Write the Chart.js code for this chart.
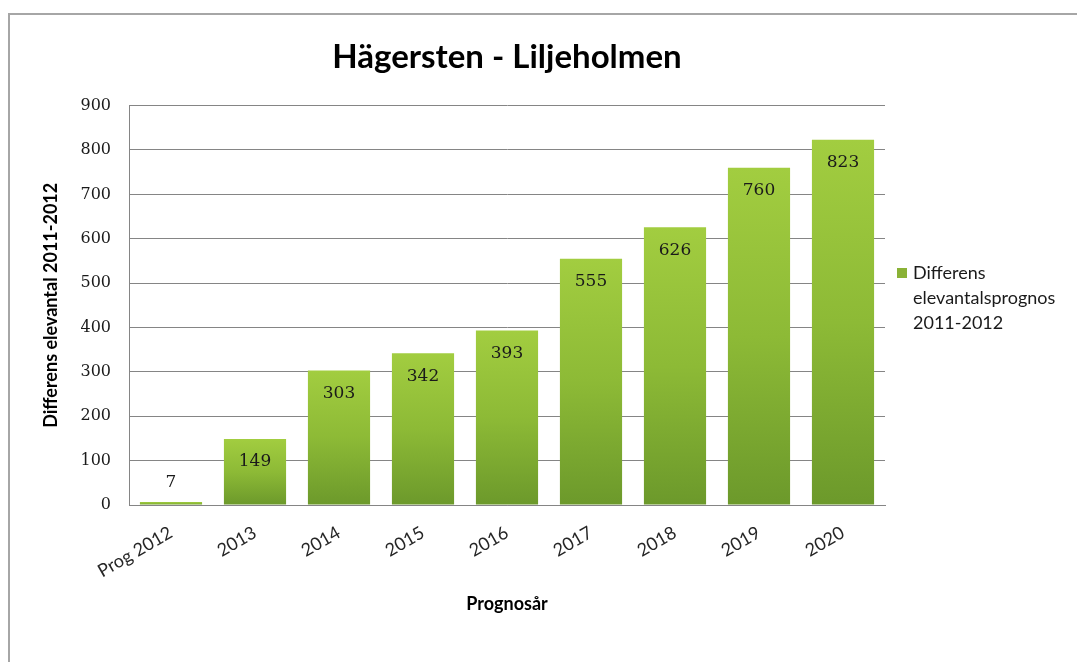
<!DOCTYPE html>
<html>
<head>
<meta charset="utf-8">
<script src="https://cdn.jsdelivr.net/npm/chart.js@4"></script>
<style>
  html, body { margin: 0; padding: 0; background: #fff; }
  #wrap { position: relative; width: 1077px; height: 662px; }
  #frame { position: absolute; left: 8px; top: 13px; right: -4px; bottom: -4px;
           border-top: 2px solid #a6a6a6; border-left: 2px solid #a6a6a6; }
  canvas { position: absolute; left: 0; top: 0; }
</style>
</head>
<body>
<div id="wrap">
  <div id="frame"></div>
  <canvas id="myChart" width="1077" height="662"></canvas>
</div>
<script>
const categories = ['Prog 2012', '2013', '2014', '2015', '2016', '2017', '2018', '2019', '2020']
const values = [7, 149, 303, 342, 393, 555, 626, 760, 823]
const legendLines = ['Differens', 'elevantalsprognos', '2011-2012']
const yMax = 900
const yStep = 100

function barColor(context) {
  const chart = context.chart
  const area = chart.chartArea
  if (!area) return '#8ab236'
  const top = chart.scales.y.getPixelForValue(context.raw)
  const g = chart.ctx.createLinearGradient(0, top, 0, area.bottom)
  g.addColorStop(0, '#a2cd40')
  g.addColorStop(0.5, '#8dba36')
  g.addColorStop(1, '#6c992b')
  return g
}

// value labels: inside the top of the bar, above it if the bar is too short
const valueLabels = {
  id: 'valueLabels',
  afterDatasetsDraw(chart) {
    const ctx = chart.ctx
    const meta = chart.getDatasetMeta(0)
    ctx.save()
    ctx.font = '17px "DejaVu Serif"'
    ctx.fillStyle = '#1a1a1a'
    ctx.textAlign = 'center'
    ctx.textBaseline = 'middle'
    meta.data.forEach(function (bar, i) {
      const h = bar.base - bar.y
      const y = h > 40 ? bar.y + 23 : bar.y - 19
      ctx.fillText(String(values[i]), bar.x, y)
    })
    ctx.restore()
  },
}

// legend on the right, text wrapped over three lines
const sideLegend = {
  id: 'sideLegend',
  afterDraw(chart) {
    const ctx = chart.ctx
    const x = chart.chartArea.right + 12
    const y = 273
    ctx.save()
    ctx.fillStyle = '#8ab236'
    ctx.fillRect(x, y - 5, 10, 10)
    ctx.font = '18px Lato'
    ctx.fillStyle = '#1a1a1a'
    ctx.textAlign = 'left'
    ctx.textBaseline = 'middle'
    legendLines.forEach(function (line, i) {
      ctx.fillText(line, x + 16, y + i * 25)
    })
    ctx.restore()
  },
}

let data = {
  labels: categories,
  datasets: [
    {
      label: legendLines.join(' '),
      data: values,
      backgroundColor: barColor,
      borderWidth: 0,
      barPercentage: 0.74,
      categoryPercentage: 1,
    },
  ],
}

let config = {
  type: 'bar',
  data: data,
  plugins: [valueLabels, sideLegend],
  options: {
    responsive: false,
    animation: false,
    layout: {
      padding: { top: 14, left: 20, right: 192, bottom: 20 },
    },
    scales: {
      y: {
        min: 0,
        max: yMax,
        afterFit: function (scale) { scale.width = 109 },
        ticks: {
          stepSize: yStep,
          padding: 18,
          color: '#1a1a1a',
          font: { family: '"DejaVu Serif"', size: 16 },
        },
        grid: {
          color: '#858585',
          lineWidth: 1,
          drawTicks: false,
        },
        border: { color: '#858585', width: 1 },
        title: {
          display: true,
          text: 'Differens elevantal 2011-2012',
          color: '#000',
          font: { family: 'Lato', size: 18, weight: 'bold' },
          padding: { top: 20, bottom: 0 },
        },
      },
      x: {
        afterFit: function (scale) { scale.height = 137 },
        ticks: {
          minRotation: 30,
          maxRotation: 30,
          padding: 9,
          color: '#262626',
          font: { family: 'Lato', size: 18 },
        },
        grid: { display: false },
        border: { color: '#858585', width: 1 },
        title: {
          display: true,
          text: 'Prognosår',
          color: '#000',
          font: { family: 'Lato', size: 18, weight: 'bold' },
          padding: { top: 0, bottom: 27 },
        },
      },
    },
    plugins: {
      legend: { display: false },
      tooltip: { enabled: false },
      title: {
        display: true,
        fullSize: false,
        text: 'Hägersten - Liljeholmen',
        color: '#000',
        font: { family: 'Lato', size: 33, weight: 'bold', lineHeight: 1.2 },
        padding: { top: 24, bottom: 28 },
      },
    },
  },
}

let chart = new Chart(document.getElementById('myChart'), config)
</script>
</body>
</html>
